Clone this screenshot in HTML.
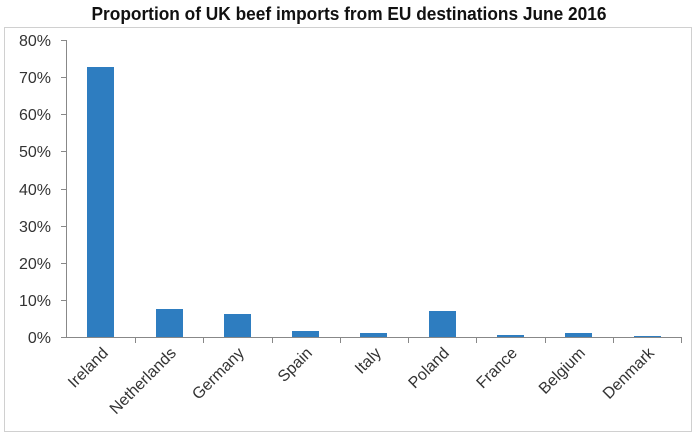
<!DOCTYPE html><html><head><style>body{margin:0;background:#fff}svg{display:block}</style></head><body>
<svg width="699" height="437" xmlns="http://www.w3.org/2000/svg" font-family="Liberation Sans, sans-serif">
<rect x="4.5" y="27.5" width="687" height="404" fill="none" stroke="#d0d0d0"/>
<text x="349" y="20" text-anchor="middle" font-size="18" font-weight="bold" fill="#111" textLength="515" lengthAdjust="spacingAndGlyphs">Proportion of UK beef imports from EU destinations June 2016</text>
<g stroke="#888" fill="none">
<line x1="66.5" y1="40" x2="66.5" y2="337"/>
<line x1="66" y1="337.5" x2="681" y2="337.5"/>
</g>
<g stroke="#888">
<line x1="61" y1="40.5" x2="66" y2="40.5"/><line x1="61" y1="77.5" x2="66" y2="77.5"/><line x1="61" y1="114.5" x2="66" y2="114.5"/><line x1="61" y1="151.5" x2="66" y2="151.5"/><line x1="61" y1="189.5" x2="66" y2="189.5"/><line x1="61" y1="226.5" x2="66" y2="226.5"/><line x1="61" y1="263.5" x2="66" y2="263.5"/><line x1="61" y1="300.5" x2="66" y2="300.5"/><line x1="61" y1="337.5" x2="66" y2="337.5"/>
<line x1="135.5" y1="337" x2="135.5" y2="343"/><line x1="203.5" y1="337" x2="203.5" y2="343"/><line x1="272.5" y1="337" x2="272.5" y2="343"/><line x1="340.5" y1="337" x2="340.5" y2="343"/><line x1="408.5" y1="337" x2="408.5" y2="343"/><line x1="476.5" y1="337" x2="476.5" y2="343"/><line x1="545.5" y1="337" x2="545.5" y2="343"/><line x1="613.5" y1="337" x2="613.5" y2="343"/><line x1="681.5" y1="337" x2="681.5" y2="343"/>
</g>
<g font-size="16" fill="#333" text-anchor="end">
<text x="51" y="46">80%</text><text x="51" y="83">70%</text><text x="51" y="120">60%</text><text x="51" y="157">50%</text><text x="51" y="195">40%</text><text x="51" y="232">30%</text><text x="51" y="269">20%</text><text x="51" y="306">10%</text><text x="51" y="343">0%</text>
</g>
<g fill="#2e7dc0">
<rect x="87" y="67" width="27" height="270"/>
<rect x="156" y="309" width="27" height="28"/>
<rect x="224" y="314" width="27" height="23"/>
<rect x="292" y="331" width="27" height="6"/>
<rect x="360" y="333" width="27" height="4"/>
<rect x="429" y="311" width="27" height="26"/>
<rect x="497" y="335" width="27" height="2"/>
<rect x="565" y="333" width="27" height="4"/>
<rect x="634" y="336" width="27" height="1"/>
</g>
<g font-size="16" fill="#333" text-anchor="end">
<text transform="translate(109,354) rotate(-45)">Ireland</text>
<text transform="translate(177,354) rotate(-45)">Netherlands</text>
<text transform="translate(245,354) rotate(-45)">Germany</text>
<text transform="translate(313,354) rotate(-45)">Spain</text>
<text transform="translate(382,354) rotate(-45)">Italy</text>
<text transform="translate(450,354) rotate(-45)">Poland</text>
<text transform="translate(518,354) rotate(-45)">France</text>
<text transform="translate(586,354) rotate(-45)">Belgium</text>
<text transform="translate(655,354) rotate(-45)">Denmark</text>
</g>
</svg></body></html>
